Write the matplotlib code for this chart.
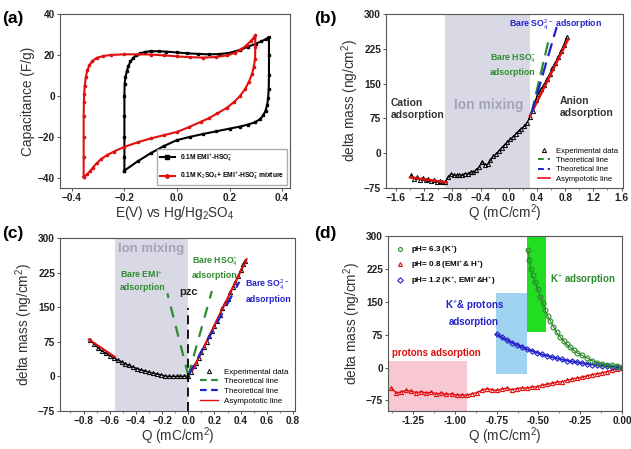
import matplotlib
matplotlib.use("Agg")
import matplotlib.pyplot as plt
from matplotlib.lines import Line2D
from matplotlib.ticker import AutoMinorLocator

plt.rcParams['font.family'] = ['Liberation Sans', 'DejaVu Sans']
plt.rcParams['mathtext.fontset'] = 'custom'
plt.rcParams['mathtext.rm'] = 'Liberation Sans'
plt.rcParams['mathtext.it'] = 'Liberation Sans:italic'
plt.rcParams['mathtext.bf'] = 'Liberation Sans:bold'

# ---------------- data ----------------
# (a) CV loops
emi_E = [-0.2, -0.2, -0.2, -0.2, -0.2, -0.199, -0.196, -0.191, -0.185, -0.177, -0.167, -0.155, -0.14, -0.12,
         -0.1, -0.07, -0.04, 0.0, 0.04, 0.08, 0.12, 0.16, 0.2, 0.24, 0.27, 0.3, 0.32, 0.34, 0.35,
         0.35, 0.35, 0.349, 0.347, 0.343, 0.337, 0.328, 0.315, 0.295, 0.27, 0.24, 0.2, 0.15, 0.1, 0.05,
         0.0, -0.05, -0.1, -0.15, -0.2]
emi_C = [-36.5, -30, -20, -10, 0, 6, 9, 12, 14.5, 16.8, 18.5, 19.8, 20.8, 21.5,
         21.8, 21.8, 21.6, 21.2, 20.8, 20.5, 20.3, 20.4, 21, 22.5, 24, 25.5, 26.6, 27.8, 28.8,
         20, 10, 3.6, -1, -4.5, -7.2, -9.5, -11.5, -13, -14, -15, -16, -17.3, -18.6, -20,
         -21.6, -24.5, -28, -32, -36.5]
mix_E = [-0.355, -0.355, -0.355, -0.355, -0.354, -0.353, -0.351, -0.347, -0.341, -0.333, -0.322, -0.305,
         -0.28, -0.25, -0.2, -0.15, -0.1, -0.05, 0.0, 0.05, 0.1, 0.15, 0.19, 0.22, 0.245, 0.265, 0.28,
         0.292, 0.298, 0.298, 0.297, 0.292, 0.285, 0.274, 0.26, 0.24, 0.217, 0.19, 0.153, 0.12, 0.09,
         0.045, 0.0, -0.05, -0.1, -0.15, -0.2, -0.24, -0.267, -0.29, -0.306, -0.32, -0.33, -0.342, -0.355]
mix_C = [-39.5, -30, -20, -10, -3, 1, 5, 9, 12.5, 15, 17, 18.6,
         19.5, 20, 20.3, 20.3, 20.2, 19.8, 19.3, 18.9, 18.7, 19, 19.8, 21, 22.8, 24.8, 26.7,
         28.4, 29.6, 24, 18, 14, 10.5, 7, 3.5, 0, -3, -5.8, -8.6, -11, -12.7,
         -15.3, -17.6, -19.2, -20.8, -22.7, -24.9, -27.2, -29, -31, -33, -35, -36.7, -38.4, -39.5]

# (b)
b_q = [-1.38, -1.34, -1.30, -1.26, -1.22, -1.18, -1.14, -1.10, -1.06, -1.02, -0.98, -0.94, -0.90, -0.86,
       -0.82, -0.78, -0.74, -0.70, -0.66, -0.62, -0.58, -0.54, -0.50, -0.46, -0.42, -0.38, -0.34, -0.30,
       -0.26, -0.22, -0.18, -0.14, -0.10, -0.06, -0.02, 0.02, 0.06, 0.10, 0.14, 0.18, 0.22, 0.26, 0.30,
       0.34, 0.38, 0.42, 0.46, 0.50, 0.54, 0.58, 0.62, 0.66, 0.70, 0.74, 0.78, 0.82]
b_m = [-48, -55, -52, -57, -53, -58, -55, -60, -58, -62, -60, -63, -62, -52,
       -45, -47, -48, -46, -48, -44, -45, -40, -41, -36, -30, -18, -25, -24,
       -15, -6, -2, 5, 12, 18, 24, 30, 35, 42, 48, 53, 58, 66, 78,
       92, 115, 128, 138, 148, 160, 170, 183, 195, 207, 220, 233, 250]
b_asym_left_q = [-1.40, -0.88]
b_asym_left_m = [-52, -63]
b_asym_right_q = [0.30, 0.84]
b_asym_right_m = [80, 245]
b_hso4_q = [0.32, 0.56]
b_hso4_m = [85, 240]
b_so4_q = [0.32, 0.68]
b_so4_m = [85, 272]
b_mix_span = [-0.905, 0.30]

# (c)
c_q = [-0.75, -0.72, -0.69, -0.66, -0.63, -0.60, -0.57, -0.54, -0.51, -0.48, -0.45, -0.42, -0.39, -0.36,
       -0.33, -0.30, -0.27, -0.24, -0.21, -0.18, -0.15, -0.12, -0.09, -0.06, -0.03, 0.0, 0.02, 0.04, 0.06,
       0.08, 0.10, 0.12, 0.14, 0.16, 0.18, 0.20, 0.22, 0.24, 0.26, 0.28, 0.30, 0.32, 0.34, 0.36, 0.38,
       0.40, 0.42, 0.43]
c_m = [78, 70, 62, 55, 50, 45, 40, 36, 32, 27, 24, 20, 17, 14,
       12, 9, 7, 5, 4, 1, 0, 0, 0, 0, 0.5, 1, 10, 22, 30,
       40, 52, 63, 75, 88, 98, 110, 120, 133, 148, 160, 168, 182, 194, 205, 218,
       230, 243, 250]
c_asym_left_q = [-0.76, -0.56]
c_asym_left_m = [80, 42]
c_asym_right_q = [0.03, 0.445]
c_asym_right_m = [12, 254]
c_emi_q = [0.0, -0.16]
c_emi_m = [2, 180]
c_hso4_q = [0.0, 0.18]
c_hso4_m = [2, 185]
c_so4_q = [0.0, 0.39]
c_so4_m = [2, 205]
c_pzc_m = [-75, 148]
c_mix_span = [-0.56, 0.0]

# (d)
d_red_q = [-1.38, -1.35, -1.32, -1.29, -1.26, -1.23, -1.20, -1.17, -1.14, -1.11, -1.08, -1.05, -1.02, -0.99,
           -0.96, -0.93, -0.90, -0.87, -0.84, -0.81, -0.78, -0.75, -0.72, -0.69, -0.66, -0.63, -0.60, -0.57,
           -0.54, -0.51, -0.48, -0.45, -0.42, -0.39, -0.36, -0.33, -0.30, -0.27, -0.24, -0.21, -0.18, -0.15,
           -0.12, -0.09, -0.06, -0.03, 0.0]
d_red_m = [-47, -58, -55, -52, -54, -57, -55, -58, -56, -60, -58, -61, -60, -63,
           -62, -63, -60, -57, -52, -48, -50, -52, -49, -47, -50, -48, -46, -47,
           -44, -44, -40, -38, -36, -33, -32, -29, -26, -24, -22, -19, -16, -14,
           -12, -9, -6, -3, 0]
d_blue_q = [-0.75, -0.72, -0.69, -0.66, -0.63, -0.60, -0.57, -0.54, -0.51, -0.48, -0.45, -0.42, -0.39,
            -0.36, -0.33, -0.30, -0.27, -0.24, -0.21, -0.18, -0.15, -0.12, -0.09, -0.06, -0.03, 0.0]
d_blue_m = [76, 69, 63, 57, 52, 47, 42, 38, 34, 30, 27, 24, 21,
            18.5, 16, 14, 12, 10, 8.5, 7, 5.5, 4, 3, 2, 1, 0]
d_green_q = [-0.563, -0.555, -0.545, -0.535, -0.52, -0.505, -0.49, -0.475, -0.46, -0.445, -0.43, -0.41,
             -0.39, -0.37, -0.35, -0.33, -0.31, -0.29, -0.27, -0.24, -0.21, -0.18, -0.15, -0.12, -0.09,
             -0.06, -0.03, 0.0]
d_green_m = [268, 245, 225, 210, 195, 180, 162, 148, 131, 118, 107, 93,
             80, 70, 61, 53, 46, 40, 34, 28, 22, 16, 11, 9, 7,
             5, 4, 2]
d_pink_box = [-1.40, -0.925, -99, 14]
d_lblue_box = [-0.756, -0.567, -15, 171]
d_green_box = [-0.567, -0.454, 80, 300]

# ---------------- figure ----------------
W, H = 631, 449
fig = plt.figure(figsize=(W / 100, H / 100), dpi=100)
TXT = '#333333'
SP = '#555555'
XLFS = 9.8


def ax_at(l, t, r, b):
    return fig.add_axes([l / W, 1 - b / H, (r - l) / W, (b - t) / H])


def style(ax):
    for s in ax.spines.values():
        s.set_color(SP)
        s.set_linewidth(0.8)
    ax.tick_params(direction='out', length=2.5, width=0.7, colors=SP, labelsize=7.3,
                   labelcolor='#222222', pad=1.0)
    ax.tick_params(which='minor', length=1.5, width=0.5, colors=SP)
    for lab in ax.get_xticklabels() + ax.get_yticklabels():
        lab.set_fontweight('bold')


GREEN = '#2e8b2e'
BLUE = '#2222cc'
RED = '#e01010'
MIXC = '#d9d9e6'
MIXT = '#a3a3b8'

# (a)
ax = ax_at(60, 14, 290, 188)
ax.plot(emi_E, emi_C, '-s', color='black', lw=1.5, ms=1.6, label='0.1M EMI$^{+}$-HSO$_4^{-}$')
ax.plot(mix_E, mix_C, '-o', color=RED, lw=1.5, ms=1.6,
        label='0.1M K$_2$SO$_4$+ EMI$^{+}$-HSO$_4^{-}$ mixture')
ax.set_xlim(-0.445, 0.43)
ax.set_ylim(-45, 40)
ax.set_xticks([-0.4, -0.2, 0.0, 0.2, 0.4])
ax.set_yticks([-40, -20, 0, 20, 40])
ax.set_xlabel('E(V) vs Hg/Hg$_2$SO$_4$', fontsize=XLFS, color=TXT, labelpad=1)
ax.set_ylabel('Capacitance (F/g)', fontsize=XLFS, color=TXT, labelpad=2)
leg = ax.legend(loc='lower right', frameon=True, edgecolor='#999999', fancybox=False,
                handlelength=2.2, borderpad=0.4, labelspacing=0.9, prop={'weight': 'bold', 'size': 4.8})
for h in leg.legend_handles:
    h.set_markersize(2.5)
style(ax)

# (b)
ax = ax_at(386, 14, 623, 188)
ax.axvspan(b_mix_span[0], b_mix_span[1], color=MIXC, lw=0, zorder=0)
ax.plot(b_q, b_m, '-^', color='black', lw=0.9, ms=3, mfc='none', mew=0.7)
ax.plot(b_asym_left_q, b_asym_left_m, '-', color=RED, lw=1.8)
ax.plot(b_asym_right_q, b_asym_right_m, '-', color=RED, lw=1.8)
ax.plot(b_hso4_q, b_hso4_m, '--', color=GREEN, lw=1.6, dashes=(6, 3))
ax.plot(b_so4_q, b_so4_m, '--', color=BLUE, lw=1.6, dashes=(6, 3))
ax.set_xlim(-1.74, 1.62)
ax.set_ylim(-75, 300)
ax.set_xticks([-1.6, -1.2, -0.8, -0.4, 0.0, 0.4, 0.8, 1.2, 1.6])
ax.set_yticks([-75, 0, 75, 150, 225, 300])
ax.xaxis.set_minor_locator(AutoMinorLocator(2))
ax.set_xlabel('Q (mC/cm$^2$)', fontsize=XLFS, color=TXT, labelpad=0)
ax.set_ylabel('delta mass (ng/cm$^2$)', fontsize=XLFS, color=TXT, labelpad=2)
ax.text(-1.67, 95, 'Cation\nadsorption', fontsize=7.5, fontweight='bold', color='#333333',
        va='center', ha='left', linespacing=1.2)
ax.text(-0.28, 103, 'Ion mixing', fontsize=10, fontweight='bold', color=MIXT, va='center', ha='center')
ax.text(0.72, 100, 'Anion\nadsorption', fontsize=7.5, fontweight='bold', color='#333333',
        va='center', ha='left', linespacing=1.2)
ax.text(-0.27, 190, 'Bare HSO$_4^{-}$\nadsorption', fontsize=6.3, fontweight='bold', color=GREEN,
        va='center', ha='left', linespacing=1.4)
ax.text(0.0, 277, 'Bare SO$_4^{2-}$ adsorption', fontsize=6.3, fontweight='bold', color=BLUE,
        va='center', ha='left')
hb = [Line2D([], [], ls='none', marker='^', color='black', ms=3, mfc='none', mew=0.7),
      Line2D([], [], ls='--', color=GREEN, lw=1.4, dashes=(3, 2)),
      Line2D([], [], ls='--', color=BLUE, lw=1.4, dashes=(3, 2)),
      Line2D([], [], ls='-', color=RED, lw=1.2)]
ax.legend(hb, ['Experimental data', 'Theoretical line', 'Theoretical line', 'Asympototic line'],
          loc='lower right', frameon=False, fontsize=5.5, handlelength=1.5, labelspacing=0.25,
          borderaxespad=0.3)
style(ax)

# (c)
ax = ax_at(60, 238, 295, 411)
ax.axvspan(c_mix_span[0], c_mix_span[1], color=MIXC, lw=0, zorder=0)
ax.plot(c_q, c_m, '-^', color='black', lw=0.9, ms=3, mfc='none', mew=0.7)
ax.plot(c_asym_left_q, c_asym_left_m, '-', color=RED, lw=1.5)
ax.plot(c_asym_right_q, c_asym_right_m, '-', color=RED, lw=1.5)
ax.plot(c_emi_q, c_emi_m, '--', color=GREEN, lw=1.6, dashes=(5, 4))
ax.plot(c_hso4_q, c_hso4_m, '--', color=GREEN, lw=1.6, dashes=(5, 4))
ax.plot(c_so4_q, c_so4_m, '--', color=BLUE, lw=1.6, dashes=(5, 4))
ax.plot([0, 0], c_pzc_m, '--', color='black', lw=1.3, dashes=(5, 3))
ax.set_xlim(-0.98, 0.815)
ax.set_ylim(-75, 300)
ax.set_xticks([-0.8, -0.6, -0.4, -0.2, 0.0, 0.2, 0.4, 0.6, 0.8])
ax.set_yticks([-75, 0, 75, 150, 225, 300])
ax.xaxis.set_minor_locator(AutoMinorLocator(2))
ax.set_xlabel('Q (mC/cm$^2$)', fontsize=XLFS, color=TXT, labelpad=0)
ax.set_ylabel('delta mass (ng/cm$^2$)', fontsize=XLFS, color=TXT, labelpad=2)
ax.text(-0.285, 276, 'Ion mixing', fontsize=9.5, fontweight='bold', color=MIXT, va='center', ha='center')
ax.text(-0.525, 208, 'Bare EMI$^{+}$\nadsorption', fontsize=6.3, fontweight='bold', color=GREEN,
        va='center', ha='left', linespacing=1.4)
ax.text(0.03, 235, 'Bare HSO$_4^{-}$\nadsorption', fontsize=6.3, fontweight='bold', color=GREEN,
        va='center', ha='left', linespacing=1.4)
ax.text(0.435, 186, 'Bare SO$_4^{2-}$\nadsorption', fontsize=6.3, fontweight='bold', color=BLUE,
        va='center', ha='left', linespacing=1.4)
ax.text(0.0, 182, 'pzc', fontsize=8, fontweight='bold', color='#222222', va='center', ha='center')
hc = [Line2D([], [], ls='none', marker='^', color='black', ms=3, mfc='none', mew=0.7),
      Line2D([], [], ls='--', color=GREEN, lw=1.6, dashes=(3, 2)),
      Line2D([], [], ls='--', color=BLUE, lw=1.6, dashes=(3, 2)),
      Line2D([], [], ls='-', color=RED, lw=1.0)]
ax.legend(hc, ['Experimental data', 'Theoretical line', 'Theoretical line', 'Asympototic line'],
          loc='lower right', frameon=False, fontsize=5.8, handlelength=2.2, labelspacing=0.25,
          borderaxespad=0.4)
style(ax)

# (d)
ax = ax_at(388, 236, 622, 411)
ax.fill_between(d_pink_box[:2], d_pink_box[2], d_pink_box[3], color='#f8c8d2', lw=0, zorder=0)
ax.fill_between(d_lblue_box[:2], d_lblue_box[2], d_lblue_box[3], color='#9fd3ef', lw=0, zorder=0)
ax.fill_between(d_green_box[:2], d_green_box[2], d_green_box[3], color='#22dd22', lw=0, zorder=0)
ax.plot(d_red_q, d_red_m, '-^', color=RED, lw=1.0, ms=3, mfc='none', mew=0.8,
        label='pH= 0.8 (EMI$^{+}$& H$^{+}$)')
ax.plot(d_blue_q, d_blue_m, '-D', color=BLUE, lw=1.4, ms=2.8, mfc='none', mew=0.8,
        label='pH= 1.2 (K$^{+}$, EMI$^{+}$&H$^{+}$)')
ax.plot(d_green_q, d_green_m, '-o', color=GREEN, lw=0.9, ms=3.5, mfc='none', mew=0.8,
        label='pH= 6.3 (K$^{+}$)')
ax.set_xlim(-1.40, 0.0)
ax.set_ylim(-99, 300)
ax.set_xticks([-1.25, -1.0, -0.75, -0.5, -0.25, 0.0])
ax.set_xticklabels(['-1.25', '-1.00', '-0.75', '-0.50', '-0.25', '0.00'])
ax.set_yticks([-75, 0, 75, 150, 225, 300])
ax.xaxis.set_minor_locator(AutoMinorLocator(2))
ax.set_xlabel('Q (mC/cm$\\mathregular{^2}$)', fontsize=XLFS, color=TXT, labelpad=0)
ax.set_ylabel('delta mass (ng/cm$^2$)', fontsize=XLFS, color=TXT, labelpad=2)
ax.text(-1.377, 34, 'protons adsorption', fontsize=7, fontweight='bold', color=RED, va='center', ha='left')
ax.text(-0.885, 124, 'K$^{+}$& protons\nadsorption', fontsize=7, fontweight='bold', color=BLUE,
        va='center', ha='center', linespacing=1.4)
ax.text(-0.432, 198, 'K$^{+}$ adsorption', fontsize=7, fontweight='bold', color=GREEN, va='center', ha='left')
hd, ld = ax.get_legend_handles_labels()
order = [2, 0, 1]
ax.legend([Line2D([], [], ls='none', marker=hd[i].get_marker(), color=hd[i].get_color(), ms=2.8,
                  mfc='none', mew=0.8) for i in order], [ld[i] for i in order],
          loc='upper left', frameon=False, handlelength=1.2, labelspacing=0.4,
          borderaxespad=0.5, prop={'weight': 'bold', 'size': 5.8})
style(ax)

# panel labels
for lab, x, y in [('(a)', 2, 18), ('(b)', 314, 18), ('(c)', 2, 234), ('(d)', 314, 234)]:
    fig.text(x / W, 1 - y / H, lab, fontsize=12.5, fontweight='bold', color='black', va='center', ha='left')

fig.savefig('out.png', dpi=100)
